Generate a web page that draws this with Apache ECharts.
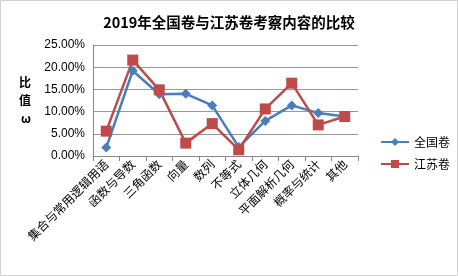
<!DOCTYPE html>
<html lang="zh">
<head>
<meta charset="utf-8">
<script src="https://cdn.jsdelivr.net/npm/echarts@6/dist/echarts.min.js"></script>
<style>
  html, body { margin: 0; padding: 0; background: #fff; }
  #chart { width: 458px; height: 276px; }
</style>
</head>
<body>
<div id="chart"></div>
<script>
var categories = ['集合与常用逻辑用语', '函数与导数', '三角函数', '向量', '数列', '不等式', '立体几何', '平面解析几何', '概率与统计', '其他'];
var quanguo = [1.9, 19.2, 13.9, 14.0, 11.4, 2.0, 7.9, 11.4, 9.7, 8.9];
var jiangsu = [5.6, 21.6, 14.9, 2.9, 7.3, 1.4, 10.6, 16.4, 7.0, 8.9];
var seriesNames = ['全国卷', '江苏卷'];

var chart = echarts.init(document.getElementById('chart'));
var option = {
    backgroundColor: '#fff',
    animation: false,
    title: {
        text: '2019年全国卷与江苏卷考察内容的比较',
        left: 'center',
        top: 10,
        textStyle: { fontSize: 14.5, fontWeight: 'bold', color: '#000', fontFamily: 'Noto Sans CJK SC' }
    },
    graphic: [{
        type: 'rect',
        shape: { x: 0.5, y: 0.5, width: 457, height: 275 },
        style: { fill: 'none', stroke: '#d0d0d0', lineWidth: 1 }
    }],
    legend: {
        orient: 'vertical',
        left: 375,
        top: 131,
        itemGap: 10,
        itemWidth: 28,
        itemHeight: 10,
        textStyle: { fontSize: 12, color: '#000', fontFamily: 'Noto Sans CJK SC' },
        data: seriesNames
    },
    grid: { left: 93, right: 100, top: 45, bottom: 120 },
    xAxis: {
        type: 'category',
        data: categories,
        boundaryGap: true,
        axisLine: { lineStyle: { color: '#888' } },
        axisTick: { show: true, alignWithLabel: false, length: 5, lineStyle: { color: '#888' } },
        axisLabel: { rotate: 45, interval: 0, fontSize: 12, color: '#000', margin: 6, fontFamily: 'Noto Sans CJK SC' }
    },
    yAxis: {
        type: 'value',
        min: 0,
        max: 25,
        interval: 5,
        name: '比\n值\nω',
        nameLocation: 'middle',
        nameRotate: 0,
        nameGap: 62,
        nameTextStyle: { fontSize: 12, fontWeight: 'bold', color: '#000', lineHeight: 18, fontFamily: 'Noto Sans CJK SC' },
        axisLine: { show: true, lineStyle: { color: '#888' } },
        axisTick: { show: false },
        splitLine: { lineStyle: { color: '#999' } },
        axisLabel: {
            fontSize: 12, color: '#000', margin: 8, fontFamily: 'Liberation Sans',
            formatter: function (v) { return v.toFixed(2) + '%'; }
        }
    },
    series: [{
        name: seriesNames[0],
        type: 'line',
        data: quanguo,
        symbol: 'diamond',
        symbolSize: 10,
        lineStyle: { width: 2.5, color: '#4a7ebb' },
        itemStyle: { color: '#4a7ebb' }
    }, {
        name: seriesNames[1],
        type: 'line',
        data: jiangsu,
        symbol: 'rect',
        symbolSize: 11,
        lineStyle: { width: 2.5, color: '#be4b48' },
        itemStyle: { color: '#be4b48' }
    }]
};
chart.setOption(option);
</script>
</body>
</html>
